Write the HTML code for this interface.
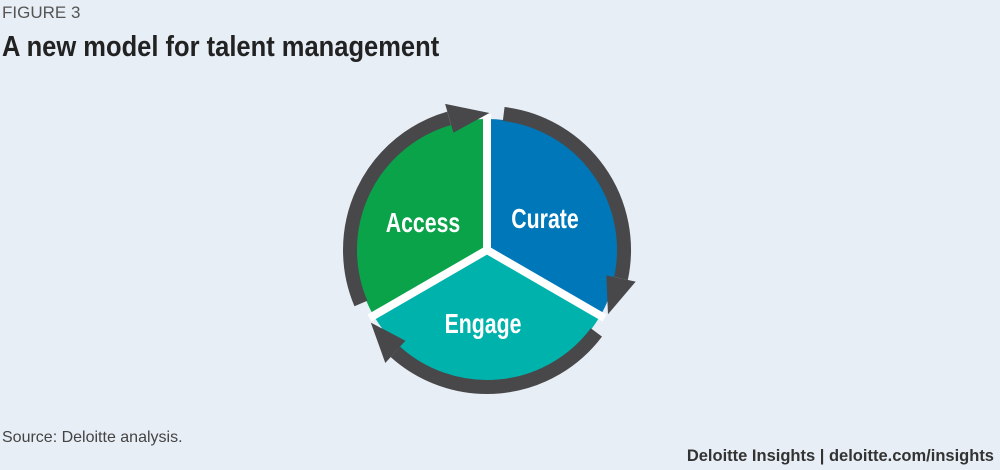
<!DOCTYPE html>
<html><head><meta charset="utf-8"><style>
html,body{margin:0;padding:0;background:#e8eef6;}
body{width:1000px;height:470px;position:relative;overflow:hidden;font-family:"Liberation Sans",sans-serif;}
.fig{position:absolute;left:2px;top:3px;font-size:17px;color:#555;}
.title{position:absolute;left:2px;top:31px;font-size:29px;font-weight:bold;color:#222;transform:scaleX(0.88);transform-origin:0 0;white-space:nowrap;}
.src{position:absolute;left:2px;top:429px;font-size:16px;color:#444;}
.foot{position:absolute;right:6px;top:447px;font-size:16.5px;font-weight:bold;color:#333;white-space:nowrap;}
svg{position:absolute;left:0;top:0;}
</style></head><body>
<div class="fig">FIGURE 3</div>
<div class="title">A new model for talent management</div>
<svg width="1000" height="470">
<path d="M487,250 L373.6,315.5 A131,131 0 0 1 487,119 Z" fill="#0aa34a"/>
<path d="M487,250 L487,119 A131,131 0 0 1 600.4,315.5 Z" fill="#0077b8"/>
<path d="M487,250 L600.4,315.5 A131,131 0 0 1 373.6,315.5 Z" fill="#00b2ac"/>
<g stroke="#fff" stroke-width="8" stroke-linecap="square">
<line x1="487" y1="250" x2="487" y2="118"/>
<line x1="487" y1="250" x2="601" y2="316"/>
<line x1="487" y1="250" x2="373" y2="316"/>
</g>
<g fill="none" stroke="#48484a" stroke-width="14">
<path d="M360.9,303.5 A137,137 0 0 1 449.2,118.3"/>
<path d="M503.7,114.0 A137,137 0 0 1 621.0,278.5"/>
<path d="M596.4,332.4 A137,137 0 0 1 395.3,351.8"/>
</g>
<g fill="#48484a">
<polygon points="453.4,132.7 445.1,103.9 489.4,113.0"/>
<polygon points="606.3,275.4 635.7,281.6 608.0,314.3"/>
<polygon points="405.4,340.7 385.3,363.0 370.8,322.6"/>
</g>
<g fill="#fff" font-family="Liberation Sans, sans-serif" font-weight="bold" font-size="28" text-anchor="middle">
<text transform="translate(423,232) scale(0.76,1)">Access</text>
<text transform="translate(545,228) scale(0.76,1)">Curate</text>
<text transform="translate(483,333) scale(0.76,1)">Engage</text>
</g>
</svg>
<div class="src">Source: Deloitte analysis.</div>
<div class="foot">Deloitte Insights | deloitte.com/insights</div>
</body></html>
